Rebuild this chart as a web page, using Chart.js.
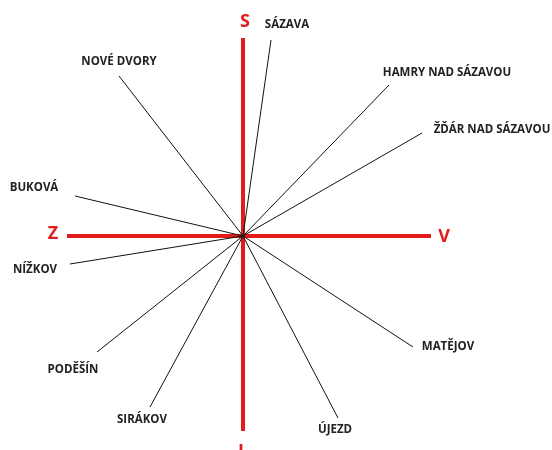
<!DOCTYPE html>
<html>
<head>
<meta charset="utf-8">
<script src="https://cdn.jsdelivr.net/npm/chart.js@4"></script>
<style>
  html, body { margin: 0; padding: 0; background: #fff; }
  #wrap { width: 552px; height: 450px; }
</style>
</head>
<body>
<div id="wrap"><canvas id="myChart"></canvas></div>
<script>
// places and where their line ends (x = east, y = north, centre = 0,0)
const places = ["SÁZAVA", "NOVÉ DVORY", "BUKOVÁ", "HAMRY NAD SÁZAVOU", "ŽĎÁR NAD SÁZAVOU",
  "NÍŽKOV", "PODĚŠÍN", "SIRÁKOV", "ÚJEZD", "MATĚJOV"];
const endX = [28, -124, -168, 146, 179, -173, -146, -93, 95, 170];
const endY = [196, 160, 40, 151, 103, -28, -116, -171, -182, -111];
// where each name is written
const nameX = [44, -124, -209, 204, 249, -208, -170, -101, 92, 205];
const nameY = [211, 174, 48, 163, 106, -34, -134, -184, -194, -111];

// compass cross
const compass = ["S", "V", "J", "Z"];
const compassX = [2, 201, -2, -190];
const compassY = [214, -1, -216, 2];
const crossEW = [-176, 188];
const crossNS = [198, -195];

const ctx = document.getElementById("myChart").getContext("2d");

const datasets = places.map((p, i) => ({
  label: p,
  data: [{ x: 0, y: 0 }, { x: endX[i], y: endY[i] }],
  borderColor: "#111",
  borderWidth: 1,
  pointRadius: 0,
  showLine: true,
}));
datasets.push({
  label: "Z-V",
  data: [{ x: crossEW[0], y: 0 }, { x: crossEW[1], y: 0 }],
  borderColor: "#e31b1b",
  borderWidth: 4,
  pointRadius: 0,
  showLine: true,
});
datasets.push({
  label: "S-J",
  data: [{ x: 0, y: crossNS[0] }, { x: 0, y: crossNS[1] }],
  borderColor: "#e31b1b",
  borderWidth: 4,
  pointRadius: 0,
  showLine: true,
});

const namesPlugin = {
  id: "names",
  afterDatasetsDraw(chart) {
    const { ctx, scales: { x, y } } = chart;
    ctx.save();
    ctx.textAlign = "center";
    ctx.textBaseline = "middle";
    ctx.fillStyle = "#222";
    ctx.font = "bold 11.5px 'Open Sans'";
    places.forEach((p, i) => {
      ctx.fillText(p, x.getPixelForValue(nameX[i]), y.getPixelForValue(nameY[i]));
    });
    ctx.fillStyle = "#e31b1b";
    ctx.font = "bold 18px 'Open Sans'";
    compass.forEach((c, i) => {
      ctx.fillText(c, x.getPixelForValue(compassX[i]), y.getPixelForValue(compassY[i]));
    });
    ctx.restore();
  },
};

new Chart(ctx, {
  type: "scatter",
  data: { datasets },
  options: {
    responsive: true,
    maintainAspectRatio: false,
    animation: false,
    layout: { padding: 0 },
    scales: {
      x: { type: "linear", min: -243, max: 309, display: false },
      y: { type: "linear", min: -214, max: 236, display: false },
    },
    plugins: {
      legend: { display: false },
      tooltip: { enabled: false },
    },
  },
  plugins: [namesPlugin],
});
</script>
</body>
</html>
